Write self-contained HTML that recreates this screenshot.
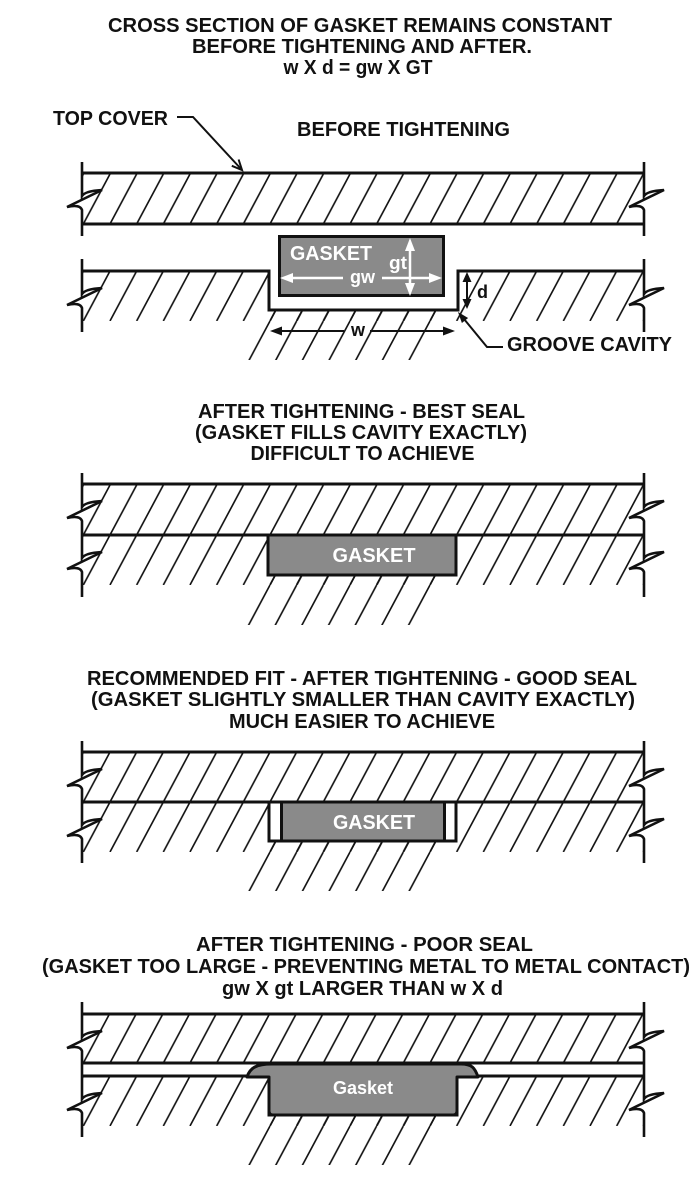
<!DOCTYPE html>
<html><head><meta charset="utf-8">
<style>
html,body{margin:0;padding:0;background:#fff;}
svg{display:block;}
text{font-family:"Liberation Sans",Arial,sans-serif;font-weight:bold;}
</style></head><body>
<svg width="697" height="1200" viewBox="0 0 697 1200" xmlns="http://www.w3.org/2000/svg">
<defs>
<pattern id="h1t" patternUnits="userSpaceOnUse" x="83.33" y="174" width="26.667" height="50"><path d="M-26.667 50L0 0M0 50L26.667 0M26.667 50L53.333 0" stroke="#111" stroke-width="1.6"/></pattern>
<pattern id="h1b" patternUnits="userSpaceOnUse" x="83.33" y="271" width="26.667" height="50"><path d="M-26.667 50L0 0M0 50L26.667 0M26.667 50L53.333 0" stroke="#111" stroke-width="1.6"/></pattern>
<pattern id="h2" patternUnits="userSpaceOnUse" x="83.33" y="485" width="26.667" height="50"><path d="M-26.667 50L0 0M0 50L26.667 0M26.667 50L53.333 0" stroke="#111" stroke-width="1.6"/></pattern>
<pattern id="h3" patternUnits="userSpaceOnUse" x="83.33" y="752" width="26.667" height="50"><path d="M-26.667 50L0 0M0 50L26.667 0M26.667 50L53.333 0" stroke="#111" stroke-width="1.6"/></pattern>
<pattern id="h4t" patternUnits="userSpaceOnUse" x="83.33" y="1013" width="26.667" height="50"><path d="M-26.667 50L0 0M0 50L26.667 0M26.667 50L53.333 0" stroke="#111" stroke-width="1.6"/></pattern>
<pattern id="h4b" patternUnits="userSpaceOnUse" x="83.33" y="1076" width="26.667" height="50"><path d="M-26.667 50L0 0M0 50L26.667 0M26.667 50L53.333 0" stroke="#111" stroke-width="1.6"/></pattern>
</defs>

<!-- ===== Titles ===== -->
<g fill="#111" font-size="20" text-anchor="middle">
<text x="360" y="32" textLength="504" lengthAdjust="spacingAndGlyphs">CROSS SECTION OF GASKET REMAINS CONSTANT</text>
<text x="362" y="53" textLength="340" lengthAdjust="spacingAndGlyphs">BEFORE TIGHTENING AND AFTER.</text>
<text x="358" y="74" textLength="149" lengthAdjust="spacingAndGlyphs">w X d = gw X GT</text>

<text x="361.5" y="418" textLength="327" lengthAdjust="spacingAndGlyphs">AFTER TIGHTENING - BEST SEAL</text>
<text x="361" y="439" textLength="332" lengthAdjust="spacingAndGlyphs">(GASKET FILLS CAVITY EXACTLY)</text>
<text x="362.5" y="460" textLength="224" lengthAdjust="spacingAndGlyphs">DIFFICULT TO ACHIEVE</text>

<text x="362" y="685" textLength="550" lengthAdjust="spacingAndGlyphs">RECOMMENDED FIT - AFTER TIGHTENING - GOOD SEAL</text>
<text x="363" y="706" textLength="544" lengthAdjust="spacingAndGlyphs">(GASKET SLIGHTLY SMALLER THAN CAVITY EXACTLY)</text>
<text x="362" y="728" textLength="266" lengthAdjust="spacingAndGlyphs">MUCH EASIER TO ACHIEVE</text>

<text x="364.5" y="951" textLength="337" lengthAdjust="spacingAndGlyphs">AFTER TIGHTENING - POOR SEAL</text>
<text x="366" y="973" textLength="648" lengthAdjust="spacingAndGlyphs">(GASKET TOO LARGE - PREVENTING METAL TO METAL CONTACT)</text>
<text x="362.5" y="995" textLength="281" lengthAdjust="spacingAndGlyphs">gw X gt LARGER THAN w X d</text>
</g>

<!-- ===== Diagram 1 ===== -->
<text x="53" y="125" font-size="20" fill="#111" textLength="115" lengthAdjust="spacingAndGlyphs">TOP COVER</text>
<text x="297" y="136" font-size="20" fill="#111" textLength="213" lengthAdjust="spacingAndGlyphs">BEFORE TIGHTENING</text>
<polyline points="177,117 193,117 242,170" fill="none" stroke="#111" stroke-width="2"/>
<polyline points="238.6,159.5 242,170 231.8,165.8" fill="none" stroke="#111" stroke-width="2"/>

<rect x="82" y="173" width="562" height="51" fill="url(#h1t)"/>
<path d="M82 271H269V310H458V271H644V321H82Z" fill="url(#h1b)"/>
<path d="M269 310H458L431.3 360H242.3Z" fill="url(#h1b)"/>

<g fill="none" stroke="#111" stroke-width="3">
<path d="M82 173H644M82 224H644"/>
<path d="M82 271H269V310H458V271H644"/>
</g>
<g fill="none" stroke="#111" stroke-width="2.6">
<path d="M82 162L82 196Q85 191 102 190L67 207Q80 204 82 210L82 236"/>
<path d="M644 162L644 196Q647 191 664 190L629 207Q642 204 644 210L644 236"/>
<path d="M82 259L82 294Q85 289 102 288L67 305Q80 302 82 308L82 332"/>
<path d="M644 259L644 294Q647 289 664 288L629 305Q642 302 644 308L644 332"/>
</g>

<rect x="279.5" y="236.5" width="164" height="59" fill="#8a8a8a" stroke="#111" stroke-width="3"/>
<text x="290" y="260" font-size="20" fill="#fff" textLength="82" lengthAdjust="spacingAndGlyphs">GASKET</text>
<g stroke="#fff" stroke-width="2.5">
<line x1="290" y1="278" x2="343" y2="278"/>
<line x1="382" y1="278" x2="432" y2="278"/>
<line x1="410" y1="249" x2="410" y2="285"/>
</g>
<g fill="#fff">
<polygon points="280,278 293,273 293,283"/>
<polygon points="442,278 429,273 429,283"/>
<polygon points="410,238 405,251 415,251"/>
<polygon points="410,296 405,283 415,283"/>
</g>
<text x="350" y="283" font-size="18" fill="#fff" textLength="25" lengthAdjust="spacingAndGlyphs">gw</text>
<text x="389" y="269" font-size="18" fill="#fff" textLength="18" lengthAdjust="spacingAndGlyphs">gt</text>

<!-- d dimension -->
<line x1="467" y1="280" x2="467" y2="301" stroke="#111" stroke-width="2"/>
<polygon points="467,272 462.5,282 471.5,282" fill="#111"/>
<polygon points="467,309 462.5,299 471.5,299" fill="#111"/>
<text x="477" y="298" font-size="18" fill="#111">d</text>

<!-- w dimension -->
<line x1="280" y1="331" x2="344" y2="331" stroke="#111" stroke-width="2"/>
<line x1="370" y1="331" x2="445" y2="331" stroke="#111" stroke-width="2"/>
<polygon points="270,331 282,326.5 282,335.5" fill="#111"/>
<polygon points="455,331 443,326.5 443,335.5" fill="#111"/>
<text x="351" y="336" font-size="18" fill="#111">w</text>

<!-- groove cavity leader -->
<polyline points="464,319 487,347 503,347" fill="none" stroke="#111" stroke-width="2"/>
<polygon points="458,312 468.1,318 461.9,323" fill="#111"/>
<text x="507" y="351" font-size="20" fill="#111" textLength="165" lengthAdjust="spacingAndGlyphs">GROOVE CAVITY</text>

<!-- ===== Diagram 2 ===== -->
<rect x="82" y="484" width="562" height="51" fill="url(#h2)"/>
<path d="M82 535H268V575H456V535H644V585H82Z" fill="url(#h2)"/>
<path d="M268 575H456L429.3 625H241.3Z" fill="url(#h2)"/>
<g fill="none" stroke="#111" stroke-width="3">
<path d="M82 484H644M82 535H644"/>
</g>
<rect x="268" y="535" width="188" height="40" fill="#8a8a8a" stroke="#111" stroke-width="3"/>
<text x="374" y="562" font-size="20" fill="#fff" text-anchor="middle" textLength="83" lengthAdjust="spacingAndGlyphs">GASKET</text>
<g fill="none" stroke="#111" stroke-width="2.6">
<path d="M82 473L82 507Q85 502 102 501L67 518Q80 515 82 521L82 558Q85 553 102 552L67 569Q80 566 82 572L82 597"/>
<path d="M644 473L644 507Q647 502 664 501L629 518Q642 515 644 521L644 558Q647 553 664 552L629 569Q642 566 644 572L644 597"/>
</g>

<!-- ===== Diagram 3 ===== -->
<rect x="82" y="752" width="562" height="50" fill="url(#h3)"/>
<path d="M82 802H269V841H456V802H644V852H82Z" fill="url(#h3)"/>
<path d="M269 841H456L429.3 891H242.3Z" fill="url(#h3)"/>
<g fill="none" stroke="#111" stroke-width="3">
<path d="M82 752H644M82 802H644"/>
<path d="M269 802V841H456V802"/>
</g>
<rect x="281.5" y="802" width="163" height="39" fill="#8a8a8a" stroke="#111" stroke-width="3"/>
<text x="374" y="829" font-size="20" fill="#fff" text-anchor="middle" textLength="82" lengthAdjust="spacingAndGlyphs">GASKET</text>
<g fill="none" stroke="#111" stroke-width="2.6">
<path d="M82 741L82 775Q85 770 102 769L67 786Q80 783 82 789L82 825Q85 820 102 819L67 836Q80 833 82 839L82 863"/>
<path d="M644 741L644 775Q647 770 664 769L629 786Q642 783 644 789L644 825Q647 820 664 819L629 836Q642 833 644 839L644 863"/>
</g>

<!-- ===== Diagram 4 ===== -->
<rect x="82" y="1014" width="562" height="49" fill="url(#h4t)"/>
<path d="M82 1076H269V1115H457V1076H644V1126H82Z" fill="url(#h4b)"/>
<path d="M269 1115H457L430.3 1165H242.3Z" fill="url(#h4b)"/>
<g fill="none" stroke="#111" stroke-width="3">
<path d="M82 1014H644M82 1063H644"/>
<path d="M82 1076H269V1115H457V1076H644"/>
</g>
<path d="M247 1077C250 1068 256 1064 272 1064H461C472 1064 475 1068 478 1077H457V1111Q457 1115 453 1115H273Q269 1115 269 1111V1077Z" fill="#8a8a8a" stroke="#111" stroke-width="3" stroke-linejoin="round"/>
<text x="363" y="1094" font-size="18" fill="#fff" text-anchor="middle" textLength="60" lengthAdjust="spacingAndGlyphs">Gasket</text>
<g fill="none" stroke="#111" stroke-width="2.6">
<path d="M82 1002L82 1037Q85 1032 102 1031L67 1048Q80 1045 82 1051L82 1099Q85 1094 102 1093L67 1110Q80 1107 82 1113L82 1137"/>
<path d="M644 1002L644 1037Q647 1032 664 1031L629 1048Q642 1045 644 1051L644 1099Q647 1094 664 1093L629 1110Q642 1107 644 1113L644 1137"/>
</g>
</svg>
</body></html>
